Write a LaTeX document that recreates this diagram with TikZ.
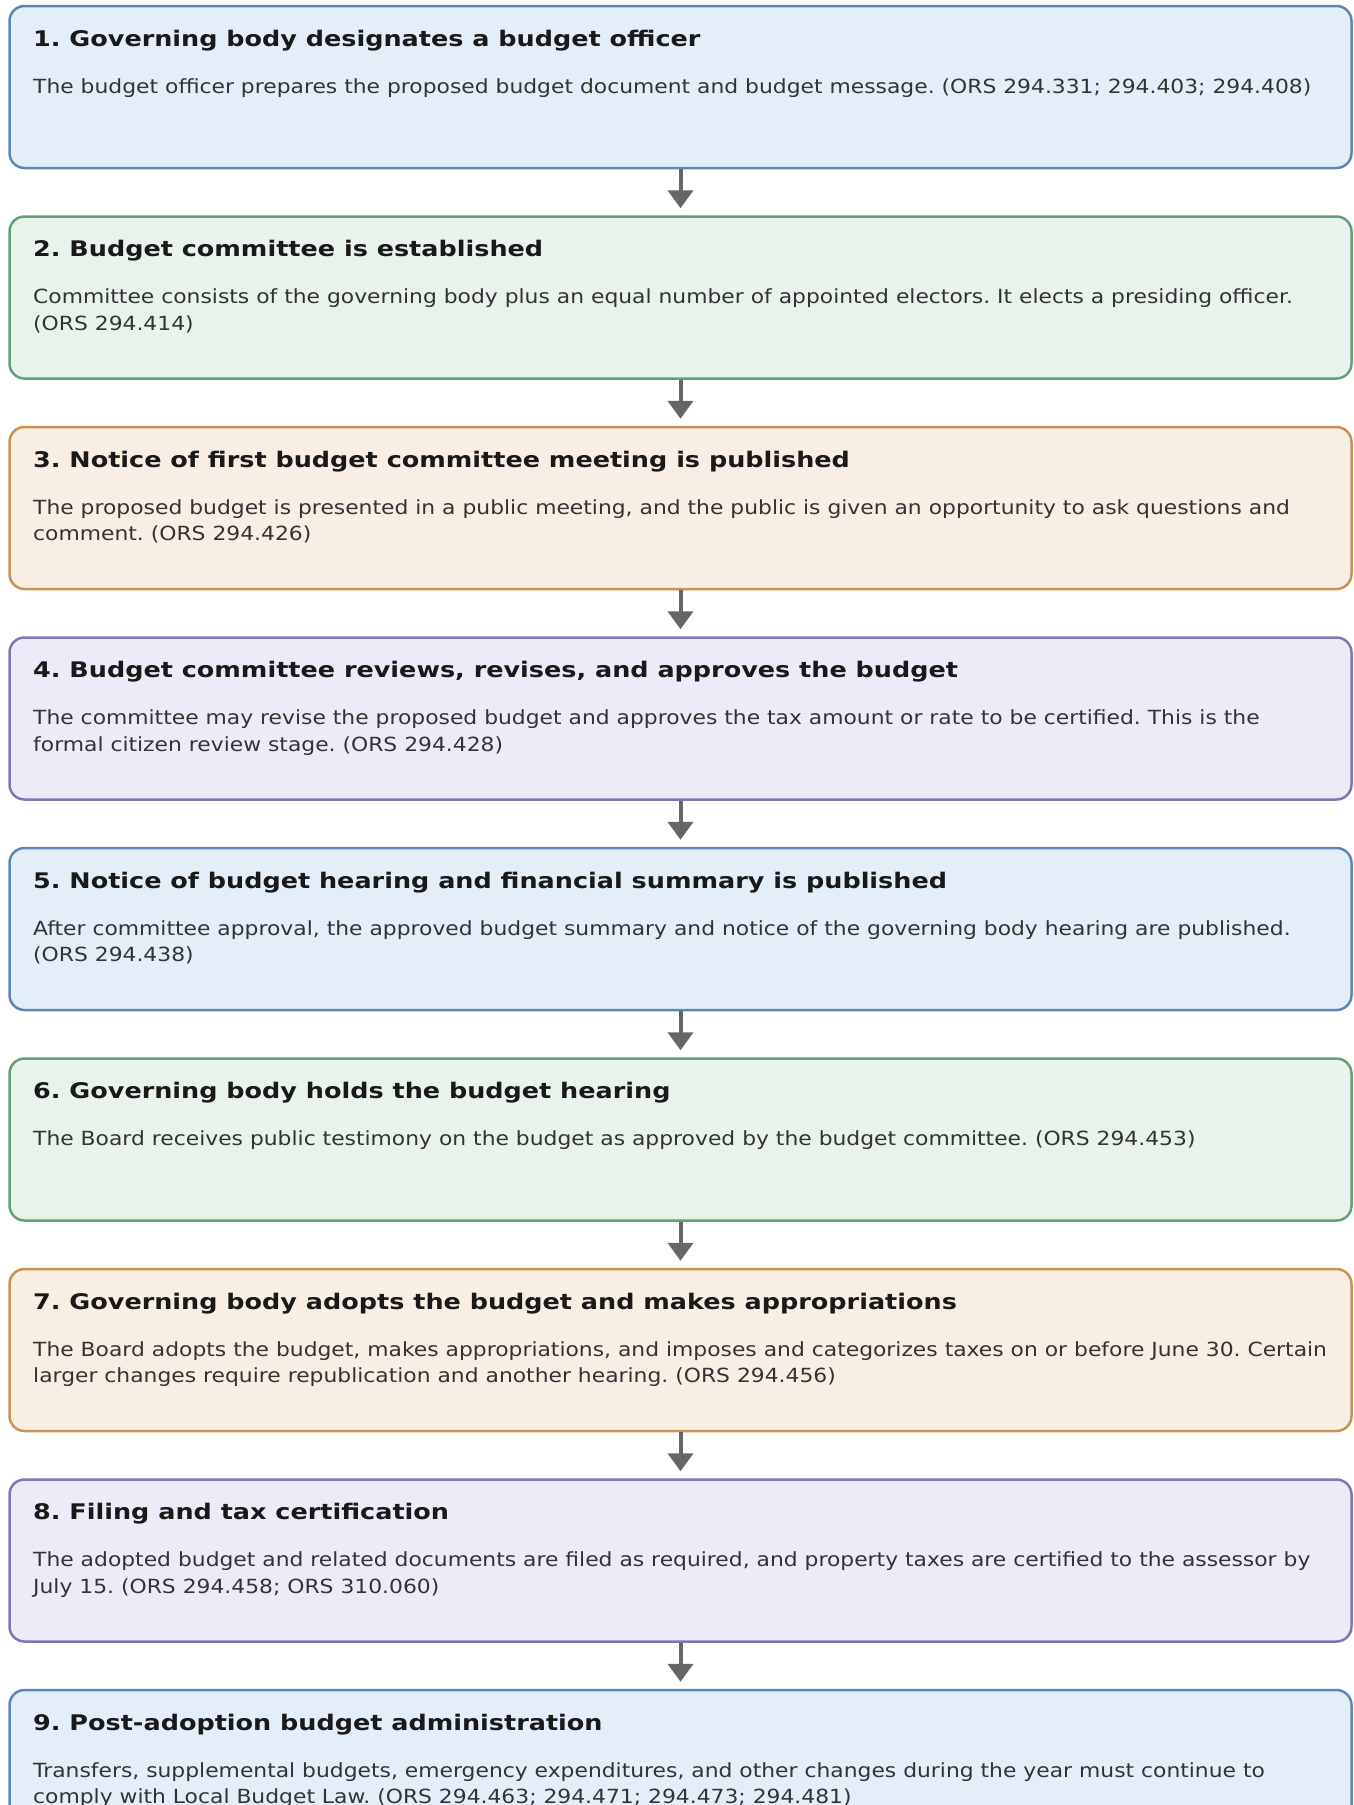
\documentclass[tikz,border=0pt]{standalone}
\usepackage{fontspec}
\setmainfont{DejaVu Sans}
\newfontfamily\titlefont[FakeStretch=1.185]{DejaVu Sans Bold}
\newfontfamily\bodyfont[FakeStretch=1.12]{DejaVu Sans}
\usetikzlibrary{arrows.meta}

\definecolor{blueFill}{HTML}{E4EEF9}
\definecolor{blueLine}{HTML}{5D86B6}
\definecolor{greenFill}{HTML}{E8F3EC}
\definecolor{greenLine}{HTML}{62A077}
\definecolor{orangeFill}{HTML}{F9EEE4}
\definecolor{orangeLine}{HTML}{C8924F}
\definecolor{purpleFill}{HTML}{EEEAF8}
\definecolor{purpleLine}{HTML}{8573BA}
\definecolor{arrowGray}{HTML}{666666}

\tikzset{
  stepbox/.style={rectangle, rounded corners=15pt, line width=2.5pt,
    minimum width=1342pt, minimum height=162pt},
  bluebox/.style={stepbox, fill=blueFill, draw=blueLine},
  greenbox/.style={stepbox, fill=greenFill, draw=greenLine},
  orangebox/.style={stepbox, fill=orangeFill, draw=orangeLine},
  purplebox/.style={stepbox, fill=purpleFill, draw=purpleLine},
  steptitle/.style={anchor=west, font=\titlefont\fontsize{21.5}{25}\selectfont\frenchspacing, text=black!90},
  steptext/.style={anchor=north west, align=left, text=black!80,
    font=\bodyfont\fontsize{19.5}{26.5}\selectfont\frenchspacing},
  nextstep/.style={line width=4pt, draw=arrowGray, shorten >=7pt,
    -{Triangle[width=25pt,length=18pt]}}
}

\begin{document}
\begin{tikzpicture}[x=1pt,y=1pt]
\tikzstyle{every node}+=[inner sep=0pt]
\useasboundingbox (0,0) rectangle (1354,-1805);

% step boxes
\node [bluebox] (s1) at (680.5,-87) {};
\node [greenbox] (s2) at (680.5,-297.5) {};
\node [orangebox] (s3) at (680.5,-508) {};
\node [purplebox] (s4) at (680.5,-718.5) {};
\node [bluebox] (s5) at (680.5,-929) {};
\node [greenbox] (s6) at (680.5,-1139.5) {};
\node [orangebox] (s7) at (680.5,-1350) {};
\node [purplebox] (s8) at (680.5,-1560.5) {};
\node [bluebox] (s9) at (680.5,-1771) {};

% titles
\node [steptitle] (t1) at (33,-40.5) {1. Governing body designates a budget officer};
\node [steptitle] (t2) at (33,-251) {2. Budget committee is established};
\node [steptitle] (t3) at (33,-461.5) {3. Notice of first budget committee meeting is published};
\node [steptitle] (t4) at (33,-672) {4. Budget committee reviews, revises, and approves the budget};
\node [steptitle] (t5) at (33,-882.5) {5. Notice of budget hearing and financial summary is published};
\node [steptitle] (t6) at (33,-1093) {6. Governing body holds the budget hearing};
\node [steptitle] (t7) at (33,-1303.5) {7. Governing body adopts the budget and makes appropriations};
\node [steptitle] (t8) at (33,-1514) {8. Filing and tax certification};
\node [steptitle] (t9) at (33,-1724.5) {9. Post-adoption budget administration};

% descriptions
\node [steptext] (d1) at (33,-78) {The budget officer prepares the proposed budget document and budget message. (ORS 294.331; 294.403; 294.408)};
\node [steptext] (d2) at (33,-288.5) {Committee consists of the governing body plus an equal number of appointed electors. It elects a presiding officer.\\(ORS 294.414)};
\node [steptext] (d3) at (33,-499) {The proposed budget is presented in a public meeting, and the public is given an opportunity to ask questions and\\comment. (ORS 294.426)};
\node [steptext] (d4) at (33,-709.5) {The committee may revise the proposed budget and approves the tax amount or rate to be certified. This is the\\formal citizen review stage. (ORS 294.428)};
\node [steptext] (d5) at (33,-920) {After committee approval, the approved budget summary and notice of the governing body hearing are published.\\(ORS 294.438)};
\node [steptext] (d6) at (33,-1130.5) {The Board receives public testimony on the budget as approved by the budget committee. (ORS 294.453)};
\node [steptext] (d7) at (33,-1341) {The Board adopts the budget, makes appropriations, and imposes and categorizes taxes on or before June 30. Certain\\larger changes require republication and another hearing. (ORS 294.456)};
\node [steptext] (d8) at (33,-1551.5) {The adopted budget and related documents are filed as required, and property taxes are certified to the assessor by\\July 15. (ORS 294.458; ORS 310.060)};
\node [steptext] (d9) at (33,-1762) {Transfers, supplemental budgets, emergency expenditures, and other changes during the year must continue to\\comply with Local Budget Law. (ORS 294.463; 294.471; 294.473; 294.481)};

% arrows
\draw [nextstep] (s1) -- (s2);
\draw [nextstep] (s2) -- (s3);
\draw [nextstep] (s3) -- (s4);
\draw [nextstep] (s4) -- (s5);
\draw [nextstep] (s5) -- (s6);
\draw [nextstep] (s6) -- (s7);
\draw [nextstep] (s7) -- (s8);
\draw [nextstep] (s8) -- (s9);
\end{tikzpicture}
\end{document}
